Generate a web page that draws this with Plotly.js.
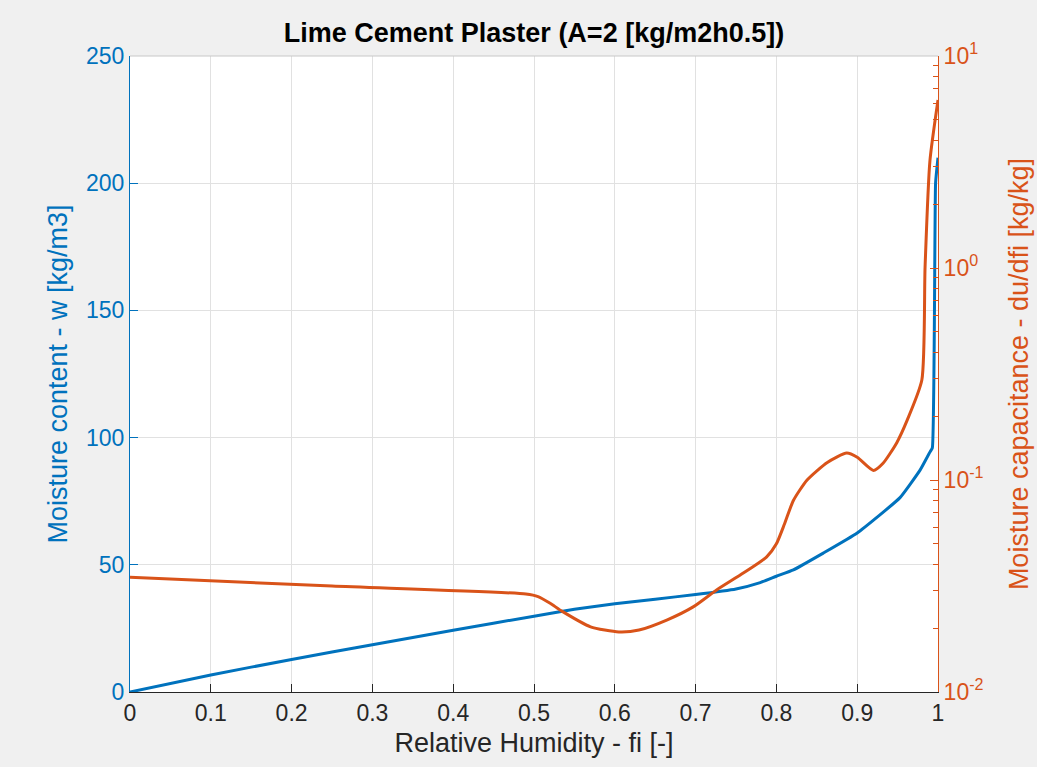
<!DOCTYPE html>
<html>
<head>
<meta charset="utf-8">
<script src="https://cdn.plot.ly/plotly-3.0.1.min.js"></script>
<style>html,body{margin:0;padding:0;background:#f0f0f0;}#chart{width:1037px;height:767px;}</style>
</head>
<body>
<div id="chart"></div>
<script>
// Moisture content w [kg/m3] vs relative humidity
const rhW  = [0, 0.1, 0.2, 0.3, 0.4, 0.5, 0.55, 0.6, 0.65, 0.7, 0.75, 0.78, 0.8, 0.821, 0.858, 0.9, 0.953, 0.978, 0.99, 0.993, 0.997, 1.0];
const wVal = [0, 6.7, 12.8, 18.6, 24.3, 29.8, 32.5, 34.7, 36.5, 38.3, 40.5, 43, 45.5, 48, 54.6, 62.5, 76.4, 87.3, 94.3, 96, 200, 210];

// Moisture capacitance du/dfi [kg/kg] vs relative humidity
const rhC  = [0, 0.25, 0.49, 0.505, 0.52, 0.535, 0.57, 0.605, 0.63, 0.665, 0.697, 0.726, 0.759, 0.788, 0.80, 0.81, 0.821, 0.838, 0.863, 0.887, 0.9, 0.92, 0.932, 0.949, 0.962, 0.98, 0.984, 0.99, 1.0];
const cVal = [0.0348, 0.0316, 0.0290, 0.0282, 0.0262, 0.0240, 0.0203, 0.0192, 0.0196, 0.0219, 0.0252, 0.0303, 0.0364, 0.0434, 0.050, 0.062, 0.080, 0.100, 0.121, 0.134, 0.128, 0.111, 0.120, 0.150, 0.192, 0.296, 1.01, 3.2, 6.2];

const logTickVals = [0.01, 0.1, 1, 10];
const logTickText = ['10<sup>-2</sup>', '10<sup>-1</sup>', '10<sup>0</sup>', '10<sup>1</sup>'];

const BLUE = '#0072BD', ORANGE = '#D95319', DARK = '#262626';
const FONT = 'Liberation Sans, Arial, Helvetica, sans-serif';

const minorVals = [];
for (let e = -2; e < 1; e++) for (let m = 2; m <= 9; m++) minorVals.push(m * Math.pow(10, e));

const traces = [
  {x: rhW, y: wVal, type: 'scatter', mode: 'lines', yaxis: 'y', line: {color: BLUE, width: 3, shape: 'spline', smoothing: 0.4}, hoverinfo: 'skip'},
  {x: rhC, y: cVal, type: 'scatter', mode: 'lines', yaxis: 'y2', line: {color: ORANGE, width: 3, shape: 'spline', smoothing: 0.6}, hoverinfo: 'skip'}
];

const layout = {
  width: 1037, height: 767,
  margin: {l: 130, r: 99, t: 56, b: 75},
  paper_bgcolor: '#f0f0f0', plot_bgcolor: '#ffffff',
  showlegend: false,
  font: {family: FONT},
  title: {text: 'Lime Cement Plaster (A=2 [kg/m2h0.5])', font: {family: FONT, size: 27, color: '#000', weight: 'bold'},
          x: 0.5, xref: 'paper', xanchor: 'center', y: 1 - 33/767, yref: 'container', yanchor: 'middle'},
  xaxis: {
    range: [0, 1], dtick: 0.1, tick0: 0,
    ticks: 'inside', ticklen: 8, tickcolor: DARK, tickwidth: 1,
    showline: true, linecolor: DARK, linewidth: 1,
    showgrid: true, gridcolor: '#e1e1e1', zeroline: false,
    tickfont: {size: 23, color: DARK, family: FONT},
    title: {text: 'Relative Humidity - fi [-]', font: {size: 27, color: DARK, family: FONT}, standoff: 8}
  },
  yaxis: {
    range: [0, 250], dtick: 50, tick0: 0,
    ticks: 'inside', ticklen: 8, tickcolor: BLUE, tickwidth: 1,
    showline: true, linecolor: BLUE, linewidth: 1,
    showgrid: true, gridcolor: '#e1e1e1', zeroline: false,
    tickfont: {size: 23, color: BLUE, family: FONT},
    title: {text: 'Moisture content - w [kg/m3]', font: {size: 27, color: BLUE, family: FONT}, standoff: 10}
  },
  yaxis2: {
    type: 'log', range: [-2, 1], overlaying: 'y', side: 'right',
    tickmode: 'array', tickvals: logTickVals, ticktext: logTickText,
    ticks: 'inside', ticklen: 8, tickcolor: ORANGE, tickwidth: 1,
    minor: {tickmode: 'array', tickvals: minorVals, ticks: 'inside', ticklen: 5, tickcolor: ORANGE, showgrid: false},
    showline: true, linecolor: ORANGE, linewidth: 1,
    showgrid: false, zeroline: false,
    tickfont: {size: 23, color: ORANGE, family: FONT},
    title: {text: 'Moisture capacitance - du/dfi [kg/kg]', font: {size: 27, color: ORANGE, family: FONT}, standoff: 26}
  },
  shapes: [
    {type: 'line', xref: 'paper', yref: 'paper', x0: 0, x1: 1, y0: 1, y1: 1, line: {color: '#c8c8c8', width: 1}}
  ]
};

Plotly.newPlot('chart', traces, layout, {staticPlot: true, displayModeBar: false});
</script>
</body>
</html>
